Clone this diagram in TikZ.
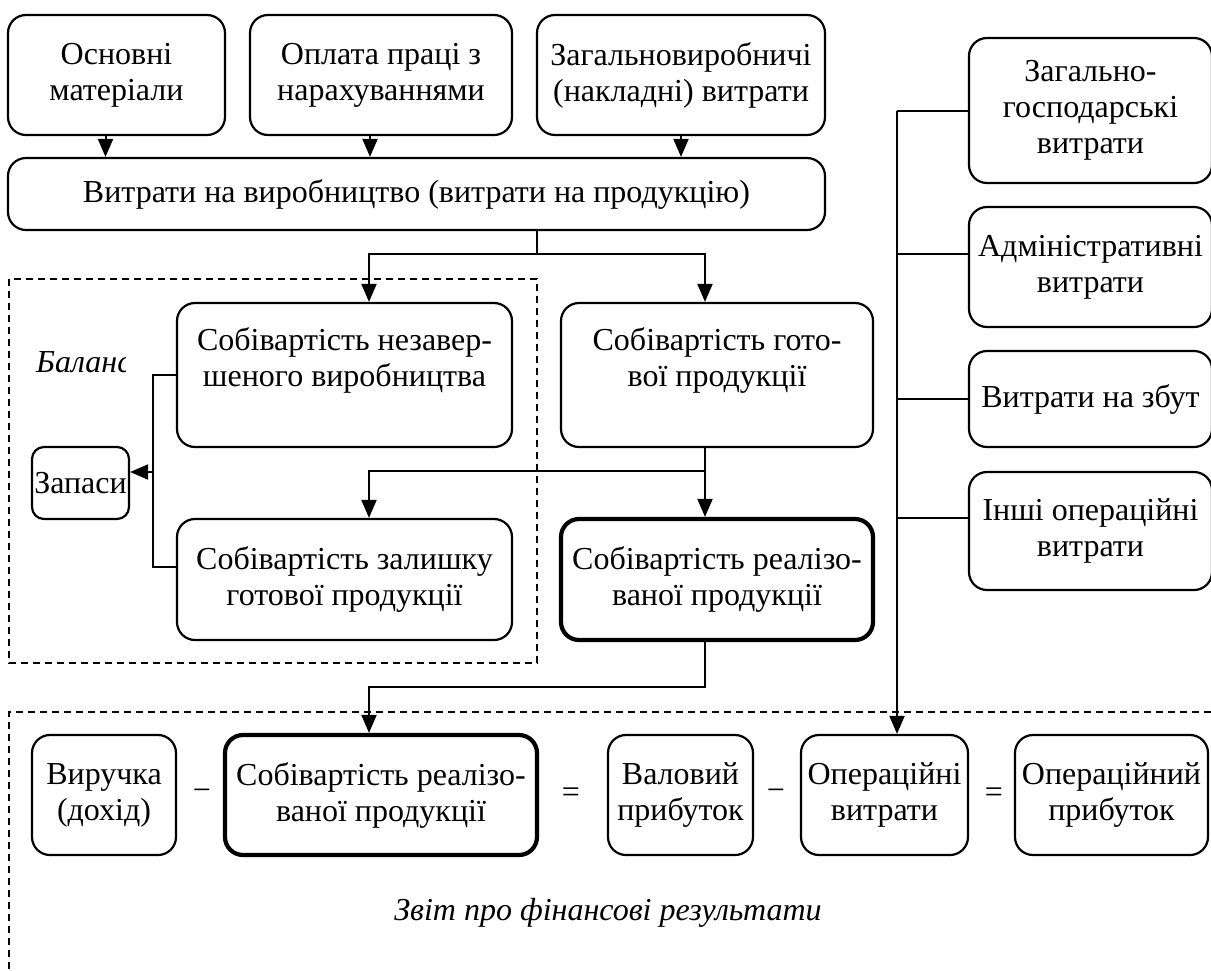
\documentclass[tikz,border=0pt]{standalone}
\usepackage{fontspec}
\setmainfont{Liberation Serif}
\usetikzlibrary{arrows.meta}
\newcommand{\bigfnt}{\fontsize{32}{36}\selectfont}

\begin{document}
\begin{tikzpicture}[x=1pt, y=-1pt,
  blk/.style={draw, line width=2.2pt, rounded corners=18pt, align=center, inner sep=0pt, font=\bigfnt},
  blkb/.style={blk, line width=4.2pt},
  ln/.style={line width=2pt},
  arr/.style={ln, -{Triangle[length=18pt,width=15pt]}},
  dashframe/.style={line width=1.8pt, dash pattern=on 7pt off 5pt}]

 \useasboundingbox (0,0) rectangle (1211,970);

 %top row
 \node[blk, minimum width=217pt, minimum height=120pt] (osn) at (116.5,75) {Основні\\матеріали};
 \node[blk, minimum width=262pt, minimum height=120pt] (opl) at (381,75) {Оплата праці з\\нарахуваннями};
 \node[blk, minimum width=288pt, minimum height=120pt] (zag) at (681,75) {Загальновиробничі\\(накладні) витрати};
 \node[blk, minimum width=817pt, minimum height=72pt] (vyt) at (416.5,194) {Витрати на виробництво (витрати на продукцію)};

 \draw[arr] ([xshift=-11pt]osn.south) -- ([xshift=-11pt]osn.south |- vyt.north);
 \draw[arr] ([xshift=-11pt]opl.south) -- ([xshift=-11pt]opl.south |- vyt.north);
 \draw[arr] (zag.south) -- (zag.south |- vyt.north);

 %balance part
 \draw[dashframe] (9,279) rectangle (537,663);
 \begin{scope}
   \clip (30,330) rectangle (125,400);
   \node[font=\bigfnt\itshape, anchor=west, inner sep=0pt] (bal) at (36,362) {Баланс};
 \end{scope}

 \node[blk, minimum width=335pt, minimum height=144pt] (snv) at (344.5,375) {Собівартість незавер-\\шеного виробництва\\~};
 \node[blk, minimum width=312pt, minimum height=144pt] (sgp) at (717,375) {Собівартість гото-\\вої продукції\\~};
 \node[blk, minimum width=335pt, minimum height=121pt] (szg) at (344.5,579.5) {Собівартість залишку\\готової продукції};
 \node[blkb, minimum width=312pt, minimum height=121pt] (srp) at (717,579.5) {Собівартість реалізо-\\ваної продукції};
 \node[blk, rounded corners=12pt, minimum width=97pt, minimum height=72pt] (zap) at (80.5,483) {Запаси};

 %expenses on the right
 \foreach \n/\y/\h/\t in {r1/110.5/145/{Загально-\\господарські\\витрати},
                          r2/267/120/{Адміністративні\\витрати},
                          r3/399/96/{Витрати на збут},
                          r4/531/118/{Інші операційні\\витрати}} {
   \node[blk, minimum width=243pt, minimum height=\h pt] (\n) at (1090.5,\y) {\t};
 }

 %report part
 \draw[dashframe] (1211,712) -- (9,712) -- (9,970);
 \foreach \n/\x/\w/\t in {vyr/104/144/{Виручка\\(дохід)},
                          val/680.5/145/{Валовий\\прибуток},
                          opv/884.5/167/{Операційні\\витрати},
                          opp/1111.5/193/{Операційний\\прибуток}} {
   \node[blk, minimum width=\w pt, minimum height=120pt] (\n) at (\x,795) {\t};
 }
 \node[blkb, minimum width=312pt, minimum height=120pt] (srp2) at (381,795) {Собівартість реалізо-\\ваної продукції};
 \foreach \x/\s [count=\i] in {202/−, 571/=, 776/−, 994/=} {
   \node[font=\bigfnt] (sg\i) at (\x,795) {\s};
 }
 \node[font=\bigfnt\itshape] (zvit) at (608,913) {Звіт про фінансові результати};

 %arrows
 \coordinate (fork) at (537,254);
 \coordinate (cL) at (369,254);
 \coordinate (cR) at (705,254);
 \draw[ln] (fork |- vyt.south) -- (fork);
 \draw[arr] (fork) -- (cL) -- (cL |- snv.north);
 \draw[arr] (fork) -- (cR) -- (cR |- sgp.north);

 \coordinate (br) at (705,471);
 \draw[arr] (cR |- sgp.south) -- (cR |- srp.north);
 \draw[arr] (br) -- (cL |- br) -- (cL |- szg.north);

 %to stocks
 \coordinate (bk) at (153,472);
 \draw[ln] (snv.west) -| (bk) |- ([yshift=12.5pt]szg.west);
 \draw[arr] (bk) -- (bk -| zap.east);

 \coordinate (lo) at (705,687);
 \draw[arr] (cR |- srp.south) -- (lo) -| (cL |- srp2.north);

 %bus
 \coordinate (bus) at (897,110.5);
 \coordinate (r2b) at ([yshift=13pt]r2.west);
 \coordinate (r4b) at ([yshift=13pt]r4.west);
 \draw[arr] (bus) -- (bus |- opv.north);
 \draw[ln] (bus) -- (r1.west);
 \draw[ln] (r2b) -- (bus |- r2b);
 \draw[ln] (r3.west) -- (bus |- r3.west);
 \draw[ln] (r4b) -- (bus |- r4b);

\end{tikzpicture}
\end{document}
